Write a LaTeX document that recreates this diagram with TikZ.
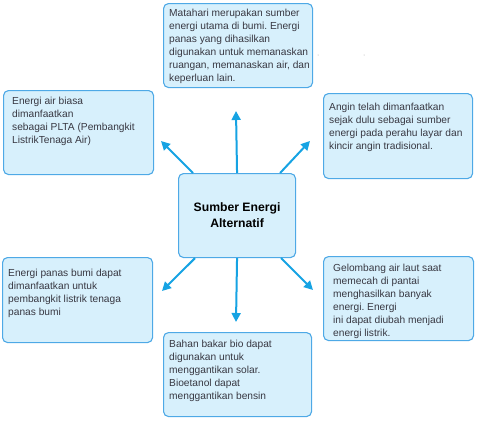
\documentclass[tikz,border=0pt]{standalone}
\usepackage{fontspec}
\setmainfont{Liberation Sans}
\frenchspacing
\usetikzlibrary{arrows.meta,calc}
\definecolor{boxfill}{HTML}{D7F0FC}
\definecolor{boxline}{HTML}{4EA9E6}
\definecolor{arrowc}{HTML}{16A3E3}
\definecolor{txt}{HTML}{383842}
\begin{document}
\begin{tikzpicture}[x=1pt,y=-1pt,
  infobox/.style={draw=boxline,fill=boxfill,line width=1.1pt,rounded corners=5pt},
  infotext/.style={anchor=north west,inner sep=0pt,align=left,text=txt,
    font=\fontsize{10.2}{12.9}\selectfont},
  conn/.style={draw=arrowc,line width=2pt,-{Triangle[length=9pt,width=9pt]}}]
\useasboundingbox (0,0) rectangle (479,421);
% boxes
\node[infobox,minimum width=149pt,minimum height=84pt,anchor=north west] (top) at (163,3) {};
\node[infobox,minimum width=150pt,minimum height=84pt,anchor=north west] (lu) at (3,90) {};
\node[infobox,minimum width=149pt,minimum height=85pt,anchor=north west] (ru) at (323,93) {};
\node[infobox,minimum width=117pt,minimum height=84pt,anchor=north west] (c) at (178,173) {};
\node[infobox,minimum width=150pt,minimum height=85pt,anchor=north west] (ll) at (2,257) {};
\node[infobox,minimum width=150pt,minimum height=84pt,anchor=north west] (rl) at (323,256) {};
\node[infobox,minimum width=148pt,minimum height=84pt,anchor=north west] (bt) at (163,332) {};
% texts
\node[infotext] (ttop) at ($(top.north west)+(6,6)$) {Matahari merupakan sumber\\energi utama di bumi. Energi\\panas yang dihasilkan\\digunakan untuk memanaskan\\ruangan, memanaskan air, dan\\keperluan lain.};
\node[infotext] (tlu) at ($(lu.north west)+(9,7)$) {Energi air biasa\\dimanfaatkan\\sebagai PLTA (Pembangkit\\ListrikTenaga Air)};
\node[infotext] (tru) at ($(ru.north west)+(6,10)$) {Angin telah dimanfaatkan\\sejak dulu sebagai sumber\\energi pada perahu layar dan\\kincir angin tradisional.};
\node[anchor=center,align=center,text=black,font=\fontsize{12.2}{16}\selectfont\bfseries] (tc) at (c.center) {Sumber Energi\\Alternatif};
\node[infotext] (tll) at ($(ll.north west)+(6,12)$) {Energi panas bumi dapat\\dimanfaatkan untuk\\pembangkit listrik tenaga\\panas bumi};
\node[infotext] (trl) at ($(rl.north west)+(10,8)$) {Gelombang air laut saat\\memecah di pantai\\menghasilkan banyak\\energi. Energi\\ini dapat diubah menjadi\\energi listrik.};
\node[infotext] (tbt) at ($(bt.north west)+(6,8)$) {Bahan bakar bio dapat\\digunakan untuk\\menggantikan solar.\\Bioetanol dapat\\menggantikan bensin};
% arrow tips
\coordinate (aup) at (236,111);
\coordinate (aul) at (161,141);
\coordinate (aur) at (310,141);
\coordinate (adn) at (236,322);
\coordinate (adl) at (162,291);
\coordinate (adr) at (313,290);
% connectors
\draw[conn] ($(c.north west)+(15,0)$) -- (aul);
\draw[conn] (c.north) -- (aup);
\draw[conn] ($(c.north east)+(-16,0)$) -- (aur);
\draw[conn] ($(c.south west)+(17,0)$) -- (adl);
\draw[conn] (c.south) -- (adn);
\draw[conn] ($(c.south east)+(-15,0)$) -- (adr);
% stray dots
\fill[gray!70] (318,55) circle (0.5pt);
\fill[gray!70] (364,55) circle (0.5pt);
\end{tikzpicture}
\end{document}
